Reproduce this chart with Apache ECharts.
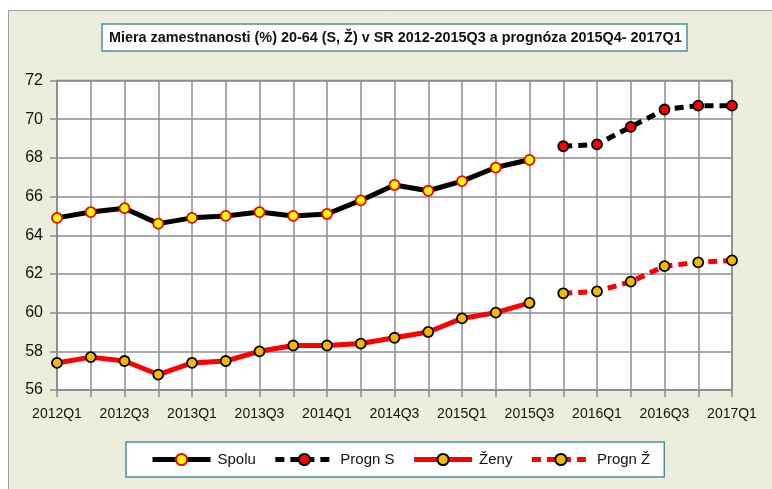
<!DOCTYPE html>
<html>
<head>
<meta charset="utf-8">
<script src="https://cdn.jsdelivr.net/npm/echarts@6/dist/echarts.min.js"></script>
<style>
  html, body { margin: 0; padding: 0; background: #fff; }
  #main { width: 772px; height: 489px; }
</style>
</head>
<body>
<div id="main"></div>
<script>
const quarters = [
  "2012Q1", "2012Q2", "2012Q3", "2012Q4",
  "2013Q1", "2013Q2", "2013Q3", "2013Q4",
  "2014Q1", "2014Q2", "2014Q3", "2014Q4",
  "2015Q1", "2015Q2", "2015Q3", "2015Q4",
  "2016Q1", "2016Q2", "2016Q3", "2016Q4", "2017Q1"
];
const spolu = [64.9, 65.2, 65.4, 64.6, 64.9, 65.0, 65.2, 65.0, 65.1, 65.8, 66.6, 66.3, 66.8, 67.5, 67.9,
  "-", "-", "-", "-", "-", "-"];
const prognS = ["-", "-", "-", "-", "-", "-", "-", "-", "-", "-", "-", "-", "-", "-", "-",
  68.6, 68.7, 69.6, 70.5, 70.7, 70.7];
const zeny = [57.4, 57.7, 57.5, 56.8, 57.4, 57.5, 58.0, 58.3, 58.3, 58.4, 58.7, 59.0, 59.7, 60.0, 60.5,
  "-", "-", "-", "-", "-", "-"];
const prognZ = ["-", "-", "-", "-", "-", "-", "-", "-", "-", "-", "-", "-", "-", "-", "-",
  61.0, 61.1, 61.6, 62.4, 62.6, 62.7];

const FONT = "'Liberation Sans', Arial, sans-serif";
const GRID_GRAY = "#8c8c8c";
const chart = echarts.init(document.getElementById("main"));

function lineSeries(name, data, color, dashed, fill, border) {
  return {
    name: name,
    type: "line",
    data: data,
    symbol: "circle",
    symbolSize: 10,
    showAllSymbol: true,
    connectNulls: false,
    lineStyle: { color: color, width: 5, type: dashed ? [9, 6] : "solid" },
    itemStyle: { color: fill, borderColor: border, borderWidth: 1.8 },
    emphasis: { disabled: true },
    z: 3
  };
}

chart.setOption({
  animation: false,
  textStyle: { fontFamily: FONT },
  graphic: [{
    type: "rect",
    z: -10,
    silent: true,
    shape: { x: 8.5, y: 10.5, width: 770, height: 485 },
    style: { fill: "#ebeedd", stroke: "#a0a0a0", lineWidth: 1 }
  }],
  title: {
    text: "Miera zamestnanosti (%) 20-64 (S, Ž) v SR 2012-2015Q3 a prognóza 2015Q4- 2017Q1",
    left: 102,
    top: 24,
    padding: [7, 6, 6, 7],
    backgroundColor: "#fff",
    borderColor: "#4b8ea6",
    borderWidth: 1.5,
    textStyle: { fontFamily: FONT, fontSize: 14.4, fontWeight: "bold", color: "#111" }
  },
  legend: {
    left: 126,
    top: 442,
    padding: [10, 14, 10, 24],
    itemGap: 17,
    itemWidth: 58,
    itemHeight: 14,
    backgroundColor: "#fff",
    borderColor: "#4b8ea6",
    borderWidth: 1.5,
    lineStyle: { width: 5 },
    textStyle: { fontFamily: FONT, fontSize: 15, color: "#111", padding: [0, 0, 0, 2] },
    data: ["Spolu", "Progn S", "Ženy", "Progn Ž"]
  },
  grid: {
    left: 57,
    right: 40,
    top: 80.5,
    bottom: 99,
    show: true,
    backgroundColor: "#fff",
    borderColor: GRID_GRAY,
    borderWidth: 1.5
  },
  xAxis: {
    type: "category",
    data: quarters,
    boundaryGap: false,
    axisLine: { show: true, lineStyle: { color: GRID_GRAY, width: 1.5 } },
    axisTick: { show: true, interval: 0, length: 7, lineStyle: { color: GRID_GRAY, width: 1.5 } },
    axisLabel: { interval: 1, margin: 17, fontFamily: FONT, fontSize: 14, color: "#111" },
    splitLine: { show: true, interval: 0, lineStyle: { color: GRID_GRAY, width: 1.5 } }
  },
  yAxis: {
    type: "value",
    min: 56,
    max: 72,
    interval: 2,
    axisLine: { show: true, lineStyle: { color: GRID_GRAY, width: 1.5 } },
    axisTick: { show: true, length: 7, lineStyle: { color: GRID_GRAY, width: 1.5 } },
    axisLabel: { margin: 14, fontFamily: FONT, fontSize: 16, color: "#111" },
    splitLine: { show: true, lineStyle: { color: GRID_GRAY, width: 1.5 } }
  },
  series: [
    lineSeries("Spolu", spolu, "#000", false, "#ffff00", "#ff0000"),
    lineSeries("Progn S", prognS, "#000", true, "#ff0000", "#000"),
    lineSeries("Ženy", zeny, "#ff0000", false, "#f5b800", "#000"),
    lineSeries("Progn Ž", prognZ, "#ff0000", true, "#f5b800", "#000")
  ]
});
</script>
</body>
</html>
